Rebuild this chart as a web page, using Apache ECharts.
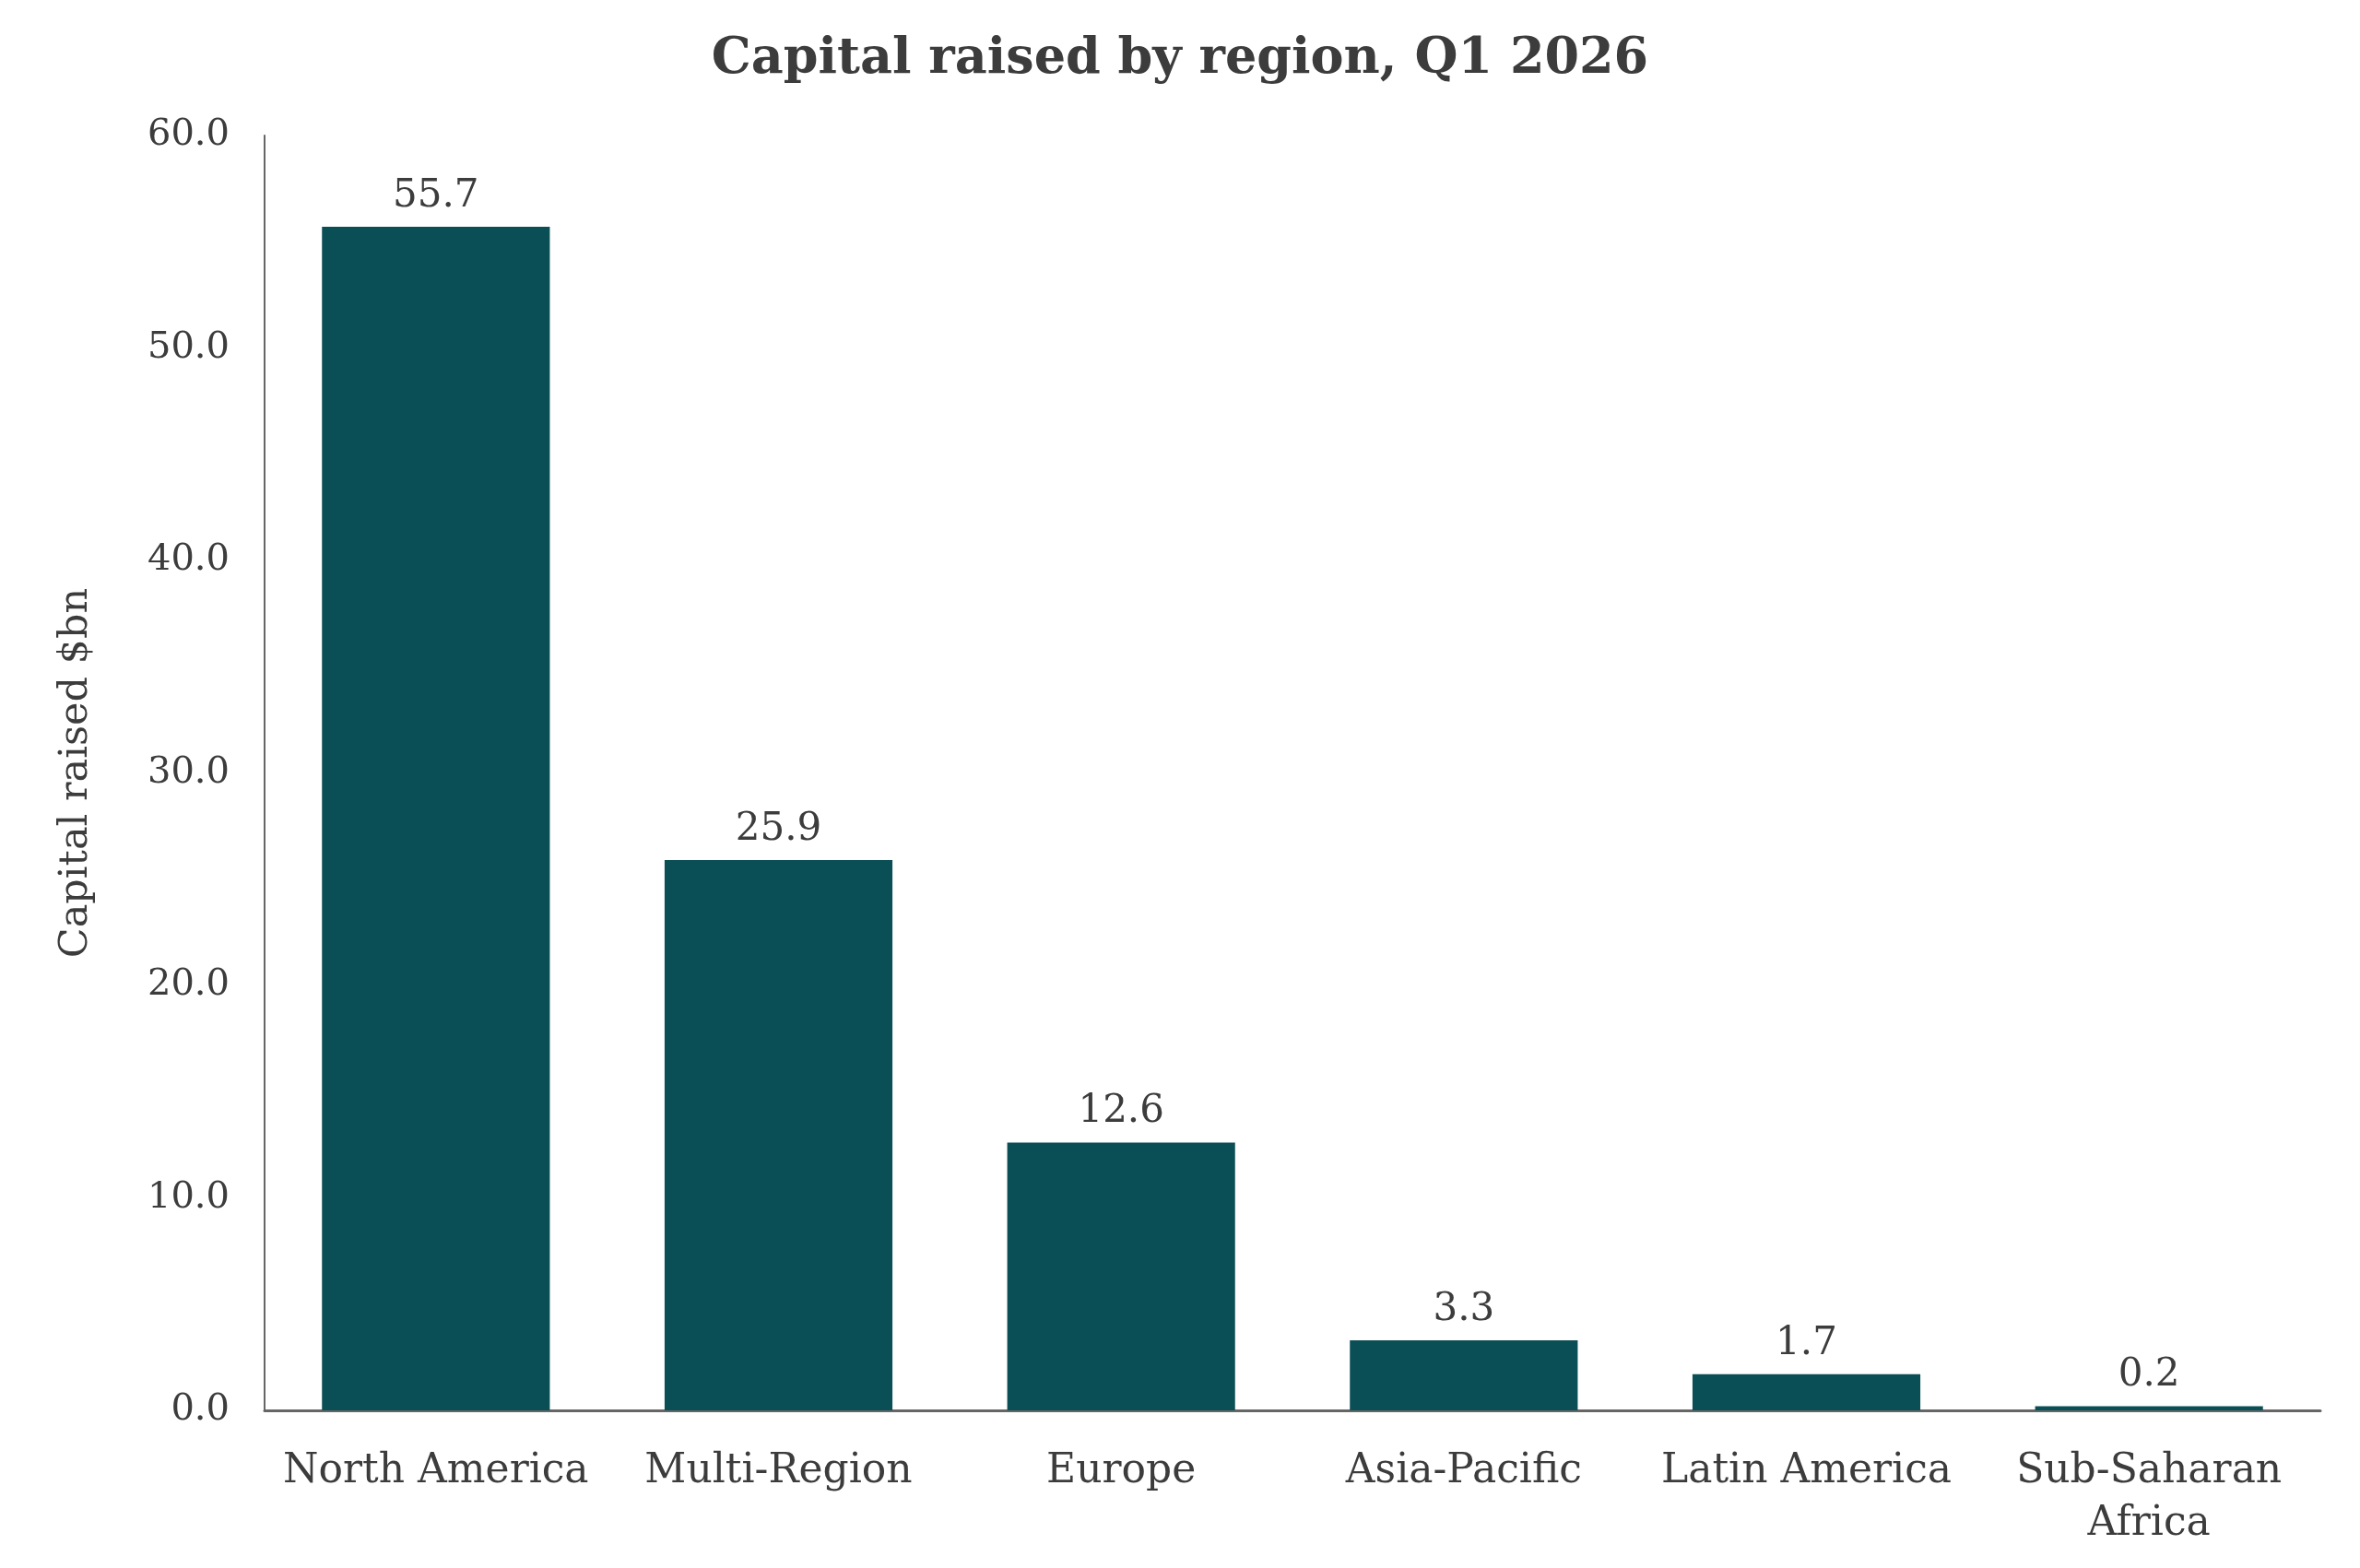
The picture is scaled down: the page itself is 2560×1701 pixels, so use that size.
<!DOCTYPE html>
<html>
<head>
    <meta charset="utf-8">
    <title>Capital raised by region</title>
    <script src="https://cdn.jsdelivr.net/npm/echarts@6/dist/echarts.min.js"></script>
    <style>
        html, body { margin: 0; padding: 0; background: #fff; }
        #main { width: 2560px; height: 1701px; }
    </style>
</head>
<body>
    <div id="main"></div>
    <script type="text/javascript">
        // data
        var regions = ['North America', 'Multi-Region', 'Europe', 'Asia-Pacific', 'Latin America', 'Sub-Saharan\nAfrica'];
        var capital = [55.7, 25.9, 12.6, 3.3, 1.7, 0.2];
        var yTicks = [0, 10, 20, 30, 40, 50, 60];

        var serif = '"DejaVu Serif", "Liberation Serif", serif';
        var textColor = '#3c3c3c';

        var myChart = echarts.init(document.getElementById('main'));

        var option = {
            backgroundColor: '#ffffff',
            animation: false,
            title: {
                text: 'Capital raised by region, Q1 2026',
                left: 'center',
                top: 33,
                textStyle: { fontFamily: serif, fontWeight: 'bold', fontSize: 54, color: textColor }
            },
            grid: { left: 287, right: 43, top: 147, bottom: 171 },
            xAxis: {
                type: 'category',
                data: regions,
                axisLine: { lineStyle: { color: '#666', width: 3 } },
                axisTick: { show: false },
                axisLabel: { fontFamily: serif, fontSize: 44, color: textColor, margin: 38, lineHeight: 57, interval: 0 }
            },
            yAxis: {
                type: 'value',
                min: yTicks[0],
                max: yTicks[yTicks.length - 1],
                interval: 10,
                name: 'Capital raised $bn',
                nameLocation: 'middle',
                nameGap: 183,
                nameTextStyle: { fontFamily: serif, fontSize: 43, color: textColor },
                axisLine: { show: true, lineStyle: { color: '#666', width: 2 } },
                axisTick: { show: false },
                splitLine: { show: false },
                axisLabel: {
                    fontFamily: serif, fontSize: 40, color: textColor, margin: 38,
                    formatter: function (v) { return v.toFixed(1); }
                }
            },
            series: [{
                type: 'bar',
                data: capital,
                barCategoryGap: '33.5%',
                itemStyle: { color: '#0a4f55' },
                label: {
                    show: true,
                    position: 'top',
                    distance: 12,
                    fontFamily: serif, fontSize: 42, color: textColor,
                    formatter: function (p) { return p.value.toFixed(1); }
                }
            }]
        };

        myChart.setOption(option);
    </script>
</body>
</html>
